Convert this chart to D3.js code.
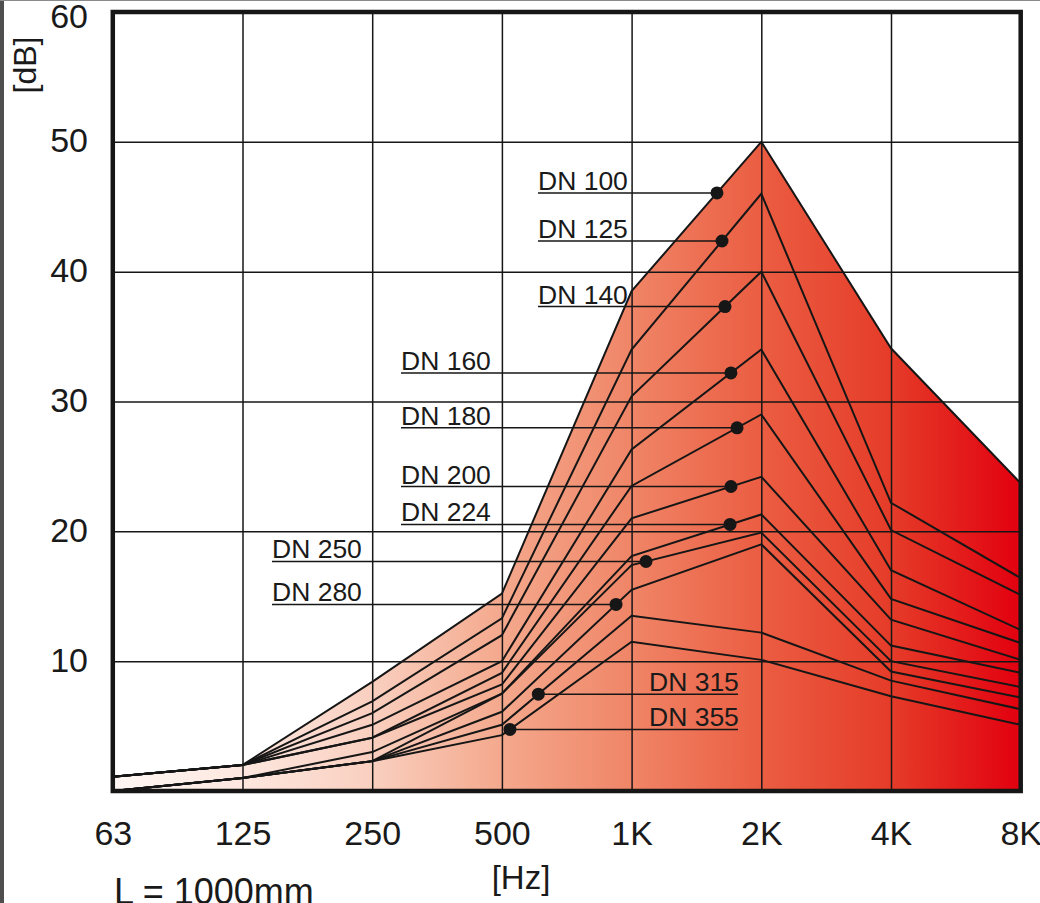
<!DOCTYPE html>
<html>
<head>
<meta charset="utf-8">
<script src="https://cdn.jsdelivr.net/npm/d3@7"></script>
<style>
  html, body { margin: 0; padding: 0; background: #fff; }
  svg { display: block; }
  text { font-family: "Liberation Sans", Arial, Helvetica, sans-serif; fill: #1a1a1a; }
</style>
</head>
<body>
<svg id="chart" width="1040" height="903"></svg>
<script>
// ---------------- DATA ----------------
const freqLabels = ["63", "125", "250", "500", "1K", "2K", "4K", "8K"];
const dbTicks = [10, 20, 30, 40, 50, 60];
const seriesNames = ["DN 100", "DN 125", "DN 140", "DN 160", "DN 180", "DN 200",
                     "DN 224", "DN 250", "DN 280", "DN 315", "DN 355"];
// insertion loss [dB] per octave band, L = 1000mm
const dn100 = [1.1, 2.0, 8.4, 15.2, 38.5, 50.0, 34.1, 23.7];
const dn125 = [1.1, 2.0, 6.9, 13.3, 34.0, 46.0, 22.2, 16.4];
const dn140 = [1.1, 2.0, 6.0, 12.0, 30.4, 40.0, 20.1, 15.1];
const dn160 = [1.1, 2.0, 5.1, 10.0, 26.3, 34.0, 17.0, 12.4];
const dn180 = [1.1, 2.0, 4.1, 9.1, 23.5, 29.0, 14.8, 11.4];
const dn200 = [1.1, 2.0, 4.1, 8.2, 21.0, 24.2, 13.2, 10.1];
const dn224 = [0.0, 1.0, 3.0, 7.5, 18.1, 21.3, 11.2, 9.1];
const dn250 = [0.0, 1.0, 2.3, 7.5, 17.4, 19.9, 10.0, 8.0];
const dn280 = [0.0, 1.0, 2.3, 6.1, 15.5, 19.0, 9.2, 7.2];
const dn315 = [0.0, 1.0, 2.3, 5.1, 13.5, 12.2, 8.5, 6.3];
const dn355 = [0.0, 1.0, 2.3, 4.3, 11.5, 10.1, 7.3, 5.1];
const allSeries = [dn100, dn125, dn140, dn160, dn180, dn200, dn224, dn250, dn280, dn315, dn355];
// where each label's marker sits along the curve (band index, fractional)
const markerAt = [4.658, 4.697, 4.720, 4.766, 4.813, 4.766, 4.759, 4.111, 3.880, 3.281, 3.062];

// ---------------- LAYOUT ----------------
const L = { left: 112.8, right: 1020.7, top: 12, bottom: 791 };
const labelLayout = [
  { x: 538, side: "left" }, { x: 538, side: "left" }, { x: 538, side: "left" },
  { x: 401, side: "left" }, { x: 401, side: "left" }, { x: 401, side: "left" }, { x: 401, side: "left" },
  { x: 272, side: "left" }, { x: 272, side: "left" },
  { x: 649, side: "right", end: 738 }, { x: 649, side: "right", end: 738 }
];

const svg = d3.select("#chart");
const ink = "#161616";

const x = d3.scalePoint().domain(freqLabels).range([L.left, L.right]);
const xi = d3.scaleLinear().domain([0, freqLabels.length - 1]).range([L.left, L.right]);
const y = d3.scaleLinear().domain([0, 60]).range([L.bottom, L.top]);

// page edge strips
svg.append("rect").attr("x", 0).attr("y", 0).attr("width", 4).attr("height", 903).attr("fill", "#4e4e4e");
svg.append("rect").attr("x", 0).attr("y", 0).attr("width", 1040).attr("height", 1).attr("fill", "#8a8a8a");

// gradient
const defs = svg.append("defs");
const grad = defs.append("linearGradient").attr("id", "fillGrad")
  .attr("gradientUnits", "userSpaceOnUse")
  .attr("x1", L.left).attr("x2", L.right).attr("y1", 0).attr("y2", 0);
[[0, "#fff7f4"], [0.143, "#fde7df"], [0.286, "#f9cfbf"], [0.43, "#f4a88c"],
 [0.571, "#f08567"], [0.714, "#eb5d42"], [0.857, "#e53c29"], [1, "#e2000f"]]
  .forEach(([o, c]) => grad.append("stop").attr("offset", o).attr("stop-color", c));

// filled area under envelope
const area = d3.area()
  .x((d, i) => x(freqLabels[i]))
  .y0(y(0))
  .y1(d => y(d));
svg.append("path").datum(dn100).attr("d", area).attr("fill", "url(#fillGrad)");

// grid
const gridX = svg.append("g").attr("transform", `translate(0,${L.bottom})`)
  .call(d3.axisBottom(x).tickSize(-(L.bottom - L.top)).tickFormat(""));
gridX.select(".domain").remove();
gridX.selectAll("line").attr("stroke", ink).attr("stroke-width", 1.5);

const gridY = svg.append("g").attr("transform", `translate(${L.left},0)`)
  .call(d3.axisLeft(y).tickValues(dbTicks).tickSize(-(L.right - L.left)).tickFormat(""));
gridY.select(".domain").remove();
gridY.selectAll("line").attr("stroke", ink).attr("stroke-width", 1.5);

// series lines
const line = d3.line().x((d, i) => x(freqLabels[i])).y(d => y(d));
svg.append("g").selectAll("path").data(allSeries).join("path")
  .attr("d", line).attr("fill", "none").attr("stroke", ink)
  .attr("stroke-width", 2).attr("stroke-linejoin", "miter");

// frame
svg.append("rect").attr("x", L.left).attr("y", L.top)
  .attr("width", L.right - L.left).attr("height", L.bottom - L.top)
  .attr("fill", "none").attr("stroke", ink).attr("stroke-width", 4.5);

// y tick labels
const yAx = svg.append("g").attr("transform", `translate(88,0)`)
  .call(d3.axisLeft(y).tickValues(dbTicks).tickSize(0).tickPadding(0));
yAx.select(".domain").remove();
yAx.selectAll("text")
  .attr("x", 0)
  .attr("dy", null)
  .attr("y", d => Math.max(10, 27 - y(d)))
  .attr("text-anchor", "end")
  .style("font-size", "34px")
  .style("font-family", "'Liberation Sans', Arial, sans-serif")
  .attr("fill", ink);

// x tick labels
const xAx = svg.append("g").attr("transform", `translate(0,845)`)
  .call(d3.axisBottom(x).tickSize(0).tickPadding(0));
xAx.select(".domain").remove();
xAx.selectAll("text")
  .attr("y", 0).attr("dy", null)
  .attr("text-anchor", "middle")
  .style("font-size", "34px")
  .style("font-family", "'Liberation Sans', Arial, sans-serif")
  .attr("fill", ink);

// axis titles
svg.append("text").attr("x", 521).attr("y", 889).attr("text-anchor", "middle")
  .style("font-size", "33px").text("[Hz]");
svg.append("text").attr("transform", "translate(36,65) rotate(-90)")
  .attr("text-anchor", "middle").style("font-size", "32px").text("[dB]");
svg.append("text").attr("x", 114).attr("y", 904)
  .style("font-size", "36px").text("L = 1000mm");

// markers, leaders, labels
function valueAt(arr, t) {
  const i0 = Math.floor(t), f = t - i0;
  return arr[i0] + (arr[i0 + 1] - arr[i0]) * f;
}
const marks = allSeries.map((arr, k) => ({
  name: seriesNames[k],
  px: xi(markerAt[k]),
  py: y(valueAt(arr, markerAt[k])),
  lay: labelLayout[k]
}));

const lg = svg.append("g");
lg.selectAll("line.lead").data(marks).join("line")
  .attr("class", "lead")
  .attr("x1", d => d.lay.side === "left" ? d.lay.x : d.px)
  .attr("x2", d => d.lay.side === "left" ? d.px : d.lay.end)
  .attr("y1", d => d.py).attr("y2", d => d.py)
  .attr("stroke", ink).attr("stroke-width", 1.5);
lg.selectAll("circle").data(marks).join("circle")
  .attr("cx", d => d.px).attr("cy", d => d.py).attr("r", 6.5).attr("fill", ink);
lg.selectAll("text").data(marks).join("text")
  .attr("x", d => d.lay.x).attr("y", d => d.py - 3)
  .style("font-size", "26.5px").text(d => d.name);
</script>
</body>
</html>
